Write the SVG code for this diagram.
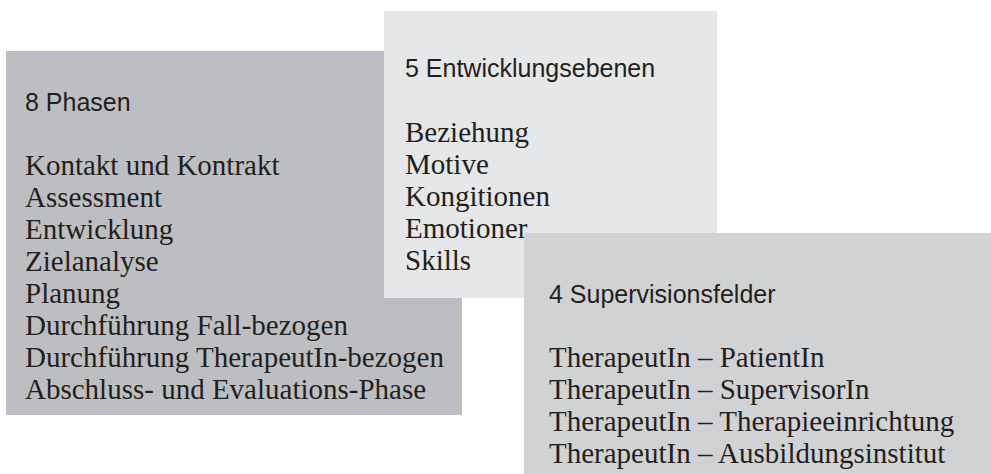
<svg xmlns="http://www.w3.org/2000/svg" width="991" height="474" viewBox="0 0 991 474">
<style>
.h{font-family:"Liberation Sans",Arial,sans-serif;font-size:25px;fill:#231f20}
.b{font-family:"Liberation Serif","Times New Roman",serif;font-size:29px;fill:#231f20}
</style>
<rect width="991" height="474" fill="#ffffff"/>
<g id="phasen">
<rect x="6" y="51" width="456" height="364" fill="#bdbec1"/>
<text class="h" x="25" y="111">8 Phasen</text>
<text class="b" x="25" y="175">Kontakt und Kontrakt</text>
<text class="b" x="25" y="207">Assessment</text>
<text class="b" x="25" y="239">Entwicklung</text>
<text class="b" x="25" y="271">Zielanalyse</text>
<text class="b" x="25" y="303">Planung</text>
<text class="b" x="25" y="335">Durchführung Fall-bezogen</text>
<text class="b" x="25" y="367">Durchführung TherapeutIn-bezogen</text>
<text class="b" x="25" y="399">Abschluss- und Evaluations-Phase</text>
</g>
<g id="entwicklungsebenen">
<rect x="384" y="11" width="333" height="287" fill="#e6e7e8"/>
<text class="h" x="405" y="77">5 Entwicklungsebenen</text>
<text class="b" x="405" y="142">Beziehung</text>
<text class="b" x="405" y="174">Motive</text>
<text class="b" x="405" y="206">Kongitionen</text>
<text class="b" x="405" y="238">Emotioner</text>
<text class="b" x="405" y="270">Skills</text>
</g>
<g id="supervisionsfelder">
<rect x="524" y="233" width="467" height="241" fill="#d1d2d4"/>
<text class="h" x="549" y="303">4 Supervisionsfelder</text>
<text class="b" x="549" y="367">TherapeutIn – PatientIn</text>
<text class="b" x="549" y="399">TherapeutIn – SupervisorIn</text>
<text class="b" x="549" y="431">TherapeutIn – Therapieeinrichtung</text>
<text class="b" x="549" y="463">TherapeutIn – Ausbildungsinstitut</text>
</g>
<g id="connectors"/>
</svg>
